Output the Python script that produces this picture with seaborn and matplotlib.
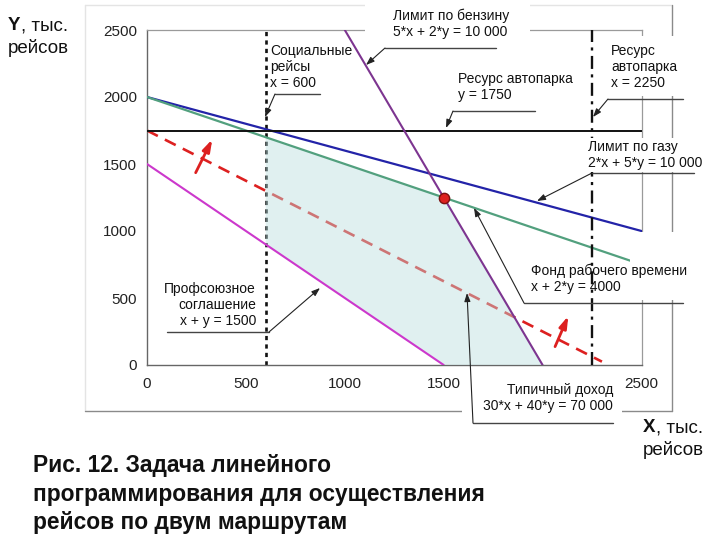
import matplotlib
matplotlib.use("Agg")
import matplotlib.pyplot as plt
import seaborn as sns
from matplotlib.lines import Line2D
from matplotlib.patches import Rectangle, FancyArrowPatch

# ---------------- data ----------------
axis_ticks = [0, 500, 1000, 1500, 2000, 2500]
x_tick_labels = ["0", "500", "1000", "1500", "", "2500"]   # 2000 hidden behind a callout
y_tick_labels = ["0", "500", "1000", "1500", "2000", "2500"]

petrol_x = [1000, 2000]      # 5x + 2y = 10000
petrol_y = [2500, 0]
gas_x = [0, 2500]            # 2x + 5y = 10000
gas_y = [2000, 1000]
work_x = [0, 2500]           # x + 2y = 4000
work_y = [2000, 750]
fleet_y_x = [0, 2500]        # y = 1750
fleet_y_y = [1750, 1750]
fleet_x_x = [2250, 2250]     # x = 2250
fleet_x_y = [0, 2500]
social_x = [600, 600]        # x = 600
social_y = [0, 2500]
union_x = [0, 1500]          # x + y = 1500
union_y = [1500, 0]
income_x = [0, 2300]         # 30x + 40y = 70000
income_y = [1750, 25]

region_x = [600, 1500, 2000, 1500, 600]
region_y = [1700, 1250, 0, 0, 900]

optimum_x = [1500]
optimum_y = [1250]

grad_tail_x = [246, 2063]
grad_tail_y = [1435, 137]
grad_head_x = [330, 2130]
grad_head_y = [1684, 366]

title_text = ("Рис. 12. Задача линейного\n"
              "программирования для осуществления\n"
              "рейсов по двум маршрутам")

# ---------------- style ----------------
sns.set_style("white")
plt.rcParams["font.family"] = ["Liberation Sans", "DejaVu Sans"]

W, H = 720, 540


def fx(px):
    return px / W


def fy(py):
    return 1 - py / H


fig = plt.figure(figsize=(7.2, 5.4), dpi=100)
fig.patch.set_facecolor("white")
ax = fig.add_axes([fx(147), fy(365), (641.5 - 147) / W, (365 - 30) / H])

RED = "#dd2020"

# lines under the fill
sns.lineplot(x=income_x, y=income_y, ax=ax, color=RED, lw=1.9,
             linestyle=(0, (4.6, 3.0)), estimator=None, sort=False, zorder=2)
sns.lineplot(x=social_x, y=social_y, ax=ax, color="#111111", lw=1.9,
             linestyle=(0, (1.6, 1.6)), estimator=None, sort=False, zorder=2)

# feasible region
ax.fill(region_x, region_y, color=(187 / 255, 222 / 255, 222 / 255),
        alpha=0.45, lw=0, zorder=3)

# constraint lines
sns.lineplot(x=gas_x, y=gas_y, ax=ax, color="#2323a8", lw=1.6,
             estimator=None, sort=False, zorder=4)
sns.lineplot(x=work_x, y=work_y, ax=ax, color="#52a07e", lw=1.6,
             estimator=None, sort=False, zorder=4)
sns.lineplot(x=fleet_y_x, y=fleet_y_y, ax=ax, color="#111111", lw=1.4,
             estimator=None, sort=False, zorder=4)
sns.lineplot(x=fleet_x_x, y=fleet_x_y, ax=ax, color="#111111", lw=1.7,
             linestyle=(0, (5.5, 2.3, 1.3, 2.3)), estimator=None, sort=False,
             zorder=4)
sns.lineplot(x=union_x, y=union_y, ax=ax, color="#cc38cc", lw=1.5,
             estimator=None, sort=False, zorder=4)
sns.lineplot(x=petrol_x, y=petrol_y, ax=ax, color="#7d3590", lw=1.5,
             estimator=None, sort=False, zorder=4)

sns.scatterplot(x=optimum_x, y=optimum_y, ax=ax, s=55, color=RED,
                edgecolor="#7a1010", linewidth=1.0, zorder=6)

for tx, ty, hx, hy in zip(grad_tail_x, grad_tail_y, grad_head_x, grad_head_y):
    ax.annotate("", xy=(hx, hy), xytext=(tx, ty),
                arrowprops=dict(arrowstyle="-|>,head_length=0.7,head_width=0.22",
                                color=RED, lw=2.0, shrinkA=0, shrinkB=0),
                zorder=6)

ax.set_xlim(0, 2500)
ax.set_ylim(0, 2500)
ax.set_xticks(axis_ticks)
ax.set_xticklabels(x_tick_labels)
ax.set_yticks(axis_ticks)
ax.set_yticklabels(y_tick_labels)
ax.set_xlabel("")
ax.set_ylabel("")
ax.tick_params(direction="out", length=3, width=0.8, color="#666666",
               labelsize=11, labelcolor="#222222")
ax.tick_params(axis="x", pad=6)
ax.tick_params(axis="y", pad=4)
for side in ["left", "bottom"]:
    ax.spines[side].set_color("#666666")
    ax.spines[side].set_linewidth(1.0)
for side in ["top", "right"]:
    ax.spines[side].set_color("#9a9a9a")
    ax.spines[side].set_linewidth(0.9)
    ax.spines[side].set_visible(True)


# ---------------- chart-area frame ----------------
def fline(x0, y0, x1, y1, color, lw, z=1):
    fig.add_artist(Line2D([fx(x0), fx(x1)], [fy(y0), fy(y1)], color=color,
                          lw=lw, zorder=z))


fline(85, 5, 85, 411, "#e4e4e4", 1.0)
fline(85, 5, 672, 5, "#e4e4e4", 1.0)
fline(672, 5, 672, 411, "#8a8a8a", 1.0)
fline(85, 411, 672, 411, "#8a8a8a", 1.0)

# white text boxes covering frame parts
for x0, y0, x1, y1 in [(365, 4, 530, 44), (605, 36, 684, 96),
                       (584, 138, 701, 172), (630, 232, 684, 300),
                       (462, 376, 622, 419)]:
    fig.add_artist(Rectangle((fx(x0), fy(y1)), (x1 - x0) / W, (y1 - y0) / H,
                             transform=fig.transFigure, facecolor="white",
                             edgecolor="none", zorder=2.5))


# ---------------- callouts ----------------
def note(text, px, py, ha, ul, elbow, target):
    fig.text(fx(px), fy(py), text, ha=ha, va="center", fontsize=10,
             linespacing=1.2, color="#111111", zorder=4)
    fline(ul[0], ul[2], ul[1], ul[2], "#444444", 1.0, z=4)
    fig.add_artist(FancyArrowPatch((fx(elbow[0]), fy(elbow[1])),
                                   (fx(target[0]), fy(target[1])),
                                   transform=fig.transFigure,
                                   arrowstyle="-|>,head_length=0.5,head_width=0.18",
                                   mutation_scale=10, color="#222222", lw=0.8,
                                   shrinkA=0, shrinkB=0, zorder=4))


note("Социальные\nрейсы\nx = 600", 270, 67, "left",
     (275, 320, 94), (275, 94), (265, 117))
note("Лимит по бензину\n5*x + 2*y = 10 000", 393, 24, "left",
     (385, 496, 48), (385, 48), (366, 65))
note("Ресурс автопарка\ny = 1750", 458, 87, "left",
     (453, 535, 111), (453, 111), (446, 128))
note("Ресурс\nавтопарка\nx = 2250", 611, 67, "left",
     (608, 683, 99), (608, 99), (593, 117))
note("Лимит по газу\n2*x + 5*y = 10 000", 588, 155, "left",
     (592, 694, 173), (592, 173), (537, 201))
note("Фонд рабочего времени\nx + 2*y = 4000", 531, 279, "left",
     (524, 683, 303), (524, 303), (474, 208))
note("Типичный доход\n30*x + 40*y = 70 000", 613, 398, "right",
     (473, 613, 423), (473, 423), (467, 293))
note("Профсоюзное\nсоглашение\nx + y = 1500", 256, 305, "right",
     (167, 269, 332), (269, 332), (320, 288))

# ---------------- axis labels ----------------
fig.text(fx(8), fy(26), "Y", fontsize=13.5, fontweight="bold", va="center",
         color="#111111")
fig.text(fx(21), fy(26), ", тыс.", fontsize=13.5, va="center", color="#111111")
fig.text(fx(8), fy(48), "рейсов", fontsize=13.5, va="center", color="#111111")

fig.text(fx(643), fy(428), "X", fontsize=13.5, fontweight="bold", va="center",
         color="#111111")
fig.text(fx(656), fy(428), ", тыс.", fontsize=13.5, va="center", color="#111111")
fig.text(fx(643), fy(450), "рейсов", fontsize=13.5, va="center", color="#111111")

# ---------------- title ----------------
fig.text(fx(33), fy(494), title_text, fontsize=16.4, fontweight="bold",
         va="center", ha="left", linespacing=1.3, color="#111111")

fig.savefig("out.png", dpi=100)
